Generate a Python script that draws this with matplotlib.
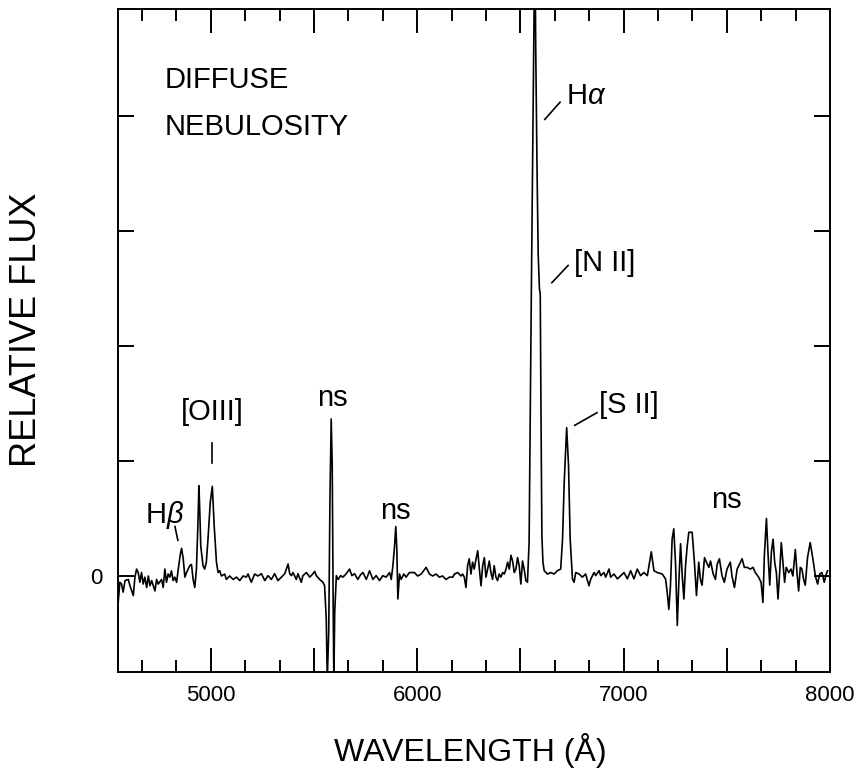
import matplotlib
matplotlib.use("Agg")
import matplotlib.pyplot as plt
from matplotlib.ticker import MultipleLocator, FuncFormatter, NullLocator

plt.rcParams['font.family'] = ['Liberation Sans', 'DejaVu Sans']
plt.rcParams['mathtext.fontset'] = 'custom'
plt.rcParams['mathtext.rm'] = 'Liberation Sans'
plt.rcParams['mathtext.it'] = 'Liberation Sans:italic'

# spectrum: wavelength (A) and relative flux
wave = [4551, 4559, 4567, 4575, 4584, 4600, 4608, 4624, 4632, 4640, 4648, 4656,
        4664, 4672, 4680, 4689, 4697, 4705, 4713, 4729, 4737, 4745, 4761, 4769,
        4777, 4785, 4793, 4801, 4809, 4817, 4825, 4834, 4842, 4852, 4858, 4866,
        4874, 4882, 4890, 4898, 4906, 4914, 4922, 4930, 4937, 4942, 4946, 4951,
        4962, 4970, 4978, 4986, 4997, 5007, 5016, 5027, 5035, 5043, 5051, 5067,
        5075, 5091, 5108, 5124, 5140, 5156, 5172, 5180, 5196, 5212, 5228,
        5245, 5261, 5277, 5293, 5309, 5325, 5342, 5358, 5374, 5382, 5390, 5398,
        5414, 5422, 5438, 5446, 5463, 5479, 5495, 5503, 5511, 5527, 5543, 5551,
        5559, 5564, 5571, 5577, 5583, 5588, 5593, 5596, 5600, 5608, 5616, 5629,
        5640, 5656, 5672, 5683, 5696, 5712, 5725, 5737, 5753, 5769, 5785, 5801,
        5817, 5833, 5849, 5866, 5874, 5882, 5890, 5896, 5901, 5906,
        5914, 5922, 5935, 5946, 5962, 5986, 6002, 6019, 6043, 6059, 6075, 6091,
        6107, 6123, 6139, 6156, 6172, 6180, 6196, 6212, 6220, 6228, 6236, 6244,
        6252, 6260, 6268, 6276, 6285, 6293, 6301, 6309, 6317, 6325, 6333, 6341,
        6349, 6357, 6365, 6373, 6381, 6389, 6397, 6405, 6414, 6422, 6430, 6438,
        6446, 6454, 6462, 6470, 6478, 6486, 6494, 6502, 6510, 6518, 6526, 6534,
        6542, 6548, 6553, 6560, 6566, 6570, 6574, 6580, 6586, 6592, 6596, 6600,
        6604, 6609, 6615, 6631, 6647, 6663, 6679, 6695, 6704, 6712, 6724, 6733,
        6741, 6752, 6760, 6768, 6784, 6800, 6816, 6832, 6841, 6857, 6865, 6881,
        6889, 6905, 6913, 6929, 6937, 6953, 6970, 6986, 7002, 7018, 7034, 7050,
        7066, 7082, 7098, 7115, 7134, 7147, 7163, 7187, 7203, 7211, 7219, 7227,
        7235, 7243, 7252, 7260, 7268, 7276, 7284, 7292, 7300, 7308, 7316, 7324,
        7332, 7343, 7353, 7364, 7372, 7380, 7392, 7401, 7413, 7421, 7434, 7445,
        7453, 7464, 7477, 7488, 7501, 7517, 7525, 7537, 7550, 7561, 7574, 7585,
        7598, 7614, 7627, 7638, 7654, 7666, 7675, 7682, 7692, 7700, 7708, 7716,
        7724, 7732, 7740, 7748, 7756, 7764, 7772, 7780, 7788, 7800, 7811, 7820,
        7832, 7840, 7848, 7856, 7864, 7872, 7880, 7891, 7904, 7917, 7929, 7940,
        7950, 7961, 7972, 7982, 7988]

flux = [-0.23, -0.055, -0.07, -0.14, -0.04, -0.03, -0.085, -0.17, -0.01, 0.06, 0.03, -0.055,
        0.03, -0.07, -0.01, -0.10, 0.0, -0.085, -0.04, -0.13, -0.03, -0.07, -0.03, -0.10,
        0.06, -0.055, 0.017, -0.01, 0.045, -0.04, -0.01, -0.055, 0.06, 0.19, 0.24, 0.15,
        -0.01, 0.03, 0.06, 0.09, 0.10, -0.03, -0.10, 0.06, 0.44, 0.785, 0.58, 0.26,
        0.09, 0.06, 0.12, 0.32, 0.64, 0.78, 0.44, 0.12, 0.03, 0.045, 0.0, 0.017,
        -0.03, 0.0, -0.03, -0.01, -0.04, 0.0, -0.01, 0.017, -0.055, 0.017, 0.0,
        0.02, -0.04, 0.003, -0.03, 0.02, -0.04, -0.01, 0.02, 0.104, 0.02, 0.003, 0.03,
        -0.03, 0.02, -0.055, 0.003, 0.03, -0.01, 0.02, 0.04, 0.003, -0.03, -0.055, -0.085,
        -0.37, -0.9, -0.49, 0.67, 1.365, 0.96, -0.35, -0.9, -0.32, 0.003, -0.03, 0.003,
        -0.01, 0.02, 0.06, 0.003, 0.02, -0.03, 0.01, 0.03, -0.03, 0.045, -0.03, 0.003,
        -0.04, 0.003, -0.01, 0.03, -0.03, 0.09, 0.26, 0.43, 0.235, -0.20,
        0.017, -0.03, 0.017, -0.01, 0.03, 0.03, 0.0, 0.017, 0.075, 0.017, 0.0, 0.017,
        -0.01, 0.0, -0.03, -0.01, -0.01, 0.017, 0.03, 0.0, 0.017, -0.01, -0.10, 0.09,
        0.15, 0.017, 0.12, 0.06, 0.15, 0.22, 0.06, -0.085, 0.09, 0.16, -0.01, 0.06,
        0.13, 0.03, -0.03, 0.09, -0.01, -0.04, 0.017, -0.01, 0.03, 0.017, 0.06, 0.12,
        0.06, 0.18, 0.13, 0.03, 0.06, 0.16, 0.09, -0.07, 0.13, 0.06, -0.04, -0.055,
        0.29, 1.5, 2.5, 3.8, 4.9, 5.6, 4.6, 3.6, 2.8, 2.5, 2.45, 1.3,
        0.35, 0.12, 0.046, 0.017, 0.03, 0.017, 0.046, 0.06, 0.32, 0.81, 1.29, 0.96,
        0.32, -0.025, -0.055, 0.03, 0.017, -0.01, 0.017, -0.085, -0.025, 0.03, 0.003, 0.046,
        0.003, 0.03, -0.01, 0.06, -0.01, 0.017, -0.025, 0.003, 0.03, -0.025, 0.046, -0.025,
        0.06, 0.003, 0.03, 0.003, 0.21, 0.046, 0.03, 0.017, -0.025, -0.14, -0.29, -0.085,
        0.32, 0.41, 0.09, -0.43, -0.03, 0.28, 0.0, -0.20, 0.09, 0.26, 0.38, 0.38,
        0.38, 0.12, -0.17, 0.12, -0.03, -0.08, 0.16, 0.12, 0.075, 0.13, 0.017, -0.03,
        0.10, 0.15, 0.0, -0.055, 0.06, 0.12, 0.0, -0.10, 0.06, 0.10, 0.15, 0.075,
        0.075, 0.06, 0.075, 0.03, -0.01, -0.055, -0.23, 0.18, 0.50, 0.18, -0.08, 0.21,
        0.32, 0.12, 0.03, -0.20, 0.03, 0.29, 0.12, -0.055, 0.075, 0.03, 0.06, 0.0,
        0.23, 0.03, -0.13, 0.075, 0.06, -0.03, -0.08, 0.16, 0.29, 0.15, 0.0, -0.07,
        0.017, 0.03, -0.055, 0.017, 0.045]

# line labels: text, x, y, alignment, and the short leader line next to each one
labels = [
    (r'H$\alpha$', 6721, 4.17, 'left'),
    ('[N II]', 6760, 2.72, 'left'),
    ('[S II]', 6881, 1.49, 'left'),
    ('[OIII]', 5005, 1.43, 'center'),
    ('ns', 5590, 1.55, 'center'),
    ('ns', 5894, 0.565, 'center'),
    ('ns', 7500, 0.66, 'center'),
    (r'H$\beta$', 4773, 0.53, 'center'),
]
leaders = [
    ([6618, 6692], [3.97, 4.12]),
    ([6652, 6731], [2.55, 2.70]),
    ([6763, 6871], [1.31, 1.42]),
    ([5005, 5005], [0.98, 1.16]),
    ([4826, 4840], [0.43, 0.31]),
]

fig = plt.figure(figsize=(8.57, 7.76), dpi=100)
ax = fig.add_axes([0.1377, 0.134, 0.8308, 0.8544])

ax.plot(wave, flux, color='black', lw=1.2)

for txt, x, y, ha in labels:
    ax.text(x, y, txt, fontsize=21, ha=ha, va='center')
for xs, ys in leaders:
    ax.plot(xs, ys, color='black', lw=1.2)

ax.text(4778, 4.31, 'DIFFUSE', fontsize=21, ha='left', va='center')
ax.text(4778, 3.90, 'NEBULOSITY', fontsize=21, ha='left', va='center')

ax.set_xlim(4550, 8000)
ax.set_ylim(-0.835, 4.93)

ax.xaxis.set_major_locator(MultipleLocator(500))
ax.xaxis.set_minor_locator(MultipleLocator(500 / 3))
ax.xaxis.set_major_formatter(FuncFormatter(lambda v, p: f'{int(round(v))}' if round(v) % 1000 == 0 else ''))
ax.yaxis.set_major_locator(MultipleLocator(1))
ax.yaxis.set_minor_locator(NullLocator())
ax.yaxis.set_major_formatter(FuncFormatter(lambda v, p: '0' if abs(v) < 1e-9 else ''))

ax.tick_params(direction='in', top=True, right=True, which='both')
ax.tick_params(axis='x', which='major', length=17, width=1.4, labelsize=16, pad=9)
ax.tick_params(axis='x', which='minor', length=8.6, width=1.4)
ax.tick_params(axis='y', which='major', length=11.5, width=1.4, labelsize=16, pad=11)
for s in ax.spines.values():
    s.set_linewidth(1.4)

fig.text(470 / 857, 1 - 750 / 776, 'WAVELENGTH (Å)', fontsize=23, ha='center', va='center')
fig.text(27 / 857, 1 - 330 / 776, 'RELATIVE FLUX', fontsize=26, rotation=90,
         ha='center', va='center')

fig.savefig('out.png', dpi=100)
